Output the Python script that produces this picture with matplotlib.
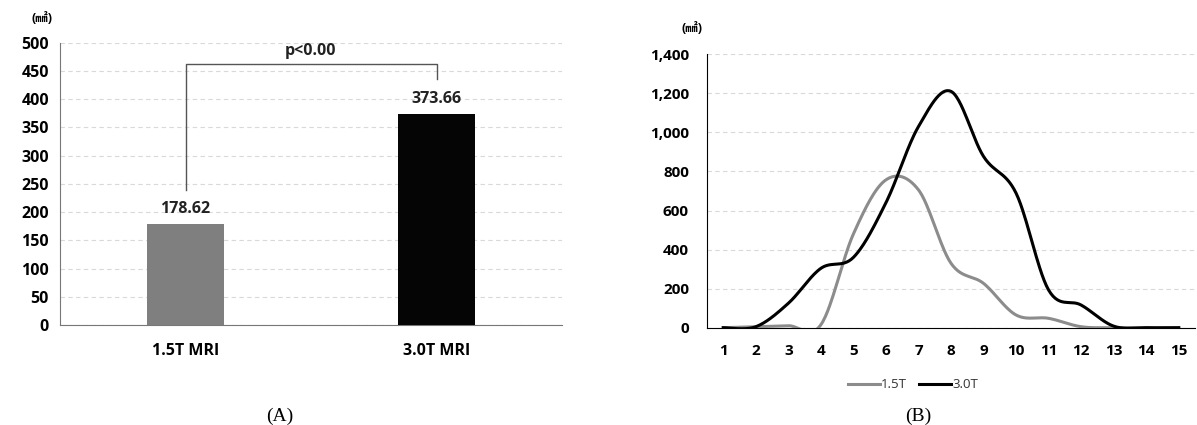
import matplotlib.pyplot as plt
import numpy as np

plt.rcParams['font.family'] = ['Open Sans', 'Noto Sans CJK KR', 'DejaVu Sans']

# (A) mean area per scanner
bar_labels = ["1.5T MRI", "3.0T MRI"]
bar_values = [178.62, 373.66]
bar_colors = ["#7f7f7f", "#050505"]

# (B) area distribution per slice
slices = list(range(1, 16))
area_15t = [0, 5, 10, 15, 480, 757, 706, 330, 227, 65, 48, 5, 0, 0, 0]
area_30t = [0, 5, 125, 304, 360, 640, 1030, 1210, 877, 689, 193, 116, 8, 0, 0]


def smooth(x, y, n=30):
    # Excel-like smoothed line: cubic bezier through points, Catmull-Rom tangents
    x = np.asarray(x, float)
    y = np.asarray(y, float)
    px = np.concatenate([[x[0]], x, [x[-1]]])
    py = np.concatenate([[y[0]], y, [y[-1]]])
    xs, ys = [], []
    t = np.linspace(0, 1, n)
    for i in range(1, len(px) - 2):
        p0 = np.array([px[i], py[i]])
        p3 = np.array([px[i + 1], py[i + 1]])
        p1 = p0 + (np.array([px[i + 1], py[i + 1]]) - np.array([px[i - 1], py[i - 1]])) / 6
        p2 = p3 - (np.array([px[i + 2], py[i + 2]]) - np.array([px[i], py[i]])) / 6
        pts = ((1 - t) ** 3)[:, None] * p0 + (3 * (1 - t) ** 2 * t)[:, None] * p1 \
            + (3 * (1 - t) * t ** 2)[:, None] * p2 + (t ** 3)[:, None] * p3
        xs.extend(pts[:, 0])
        ys.extend(pts[:, 1])
    return np.array(xs), np.array(ys)


fig = plt.figure(figsize=(11.97, 4.25), dpi=100)
grid_kw = dict(color="#d9d9d9", linestyle=(0, (4, 3)), linewidth=0.8)

# ---- (A) bar chart
ax1 = fig.add_axes([60 / 1197, 1 - 325 / 425, 502 / 1197, (325 - 42.7) / 425])
pos = np.arange(len(bar_labels))
ax1.bar(pos, bar_values, width=0.31, color=bar_colors, zorder=3)
for p, v in zip(pos, bar_values):
    ax1.text(p, v + 12, f"{v:.2f}", ha="center", va="bottom", fontsize=11.5,
             fontweight="bold", color="#222222")
ax1.set_xlim(-0.5, 1.5)
ax1.set_ylim(0, 500)
ax1.set_yticks(np.arange(0, 501, 50))
ax1.set_xticks(pos)
ax1.set_xticklabels(bar_labels)
ax1.yaxis.grid(True, **grid_kw)
ax1.set_axisbelow(True)
for s in ["top", "right"]:
    ax1.spines[s].set_visible(False)
ax1.spines["left"].set_color("#777777")
ax1.spines["bottom"].set_color("#777777")
ax1.tick_params(length=0, labelsize=11.5, pad=8)
for lbl in ax1.get_xticklabels() + ax1.get_yticklabels():
    lbl.set_fontweight("bold")
ax1.tick_params(axis="x", pad=13)

# significance bracket
ax1.plot([pos[0], pos[0], pos[1], pos[1]], [239, 463, 463, 435],
         color="#555555", linewidth=1, zorder=4)
ax1.text((pos[0] + pos[1]) / 2, 485, "p<0.00", ha="center", va="center",
         fontsize=11.5, fontweight="bold", color="#222222")
fig.text(42 / 1197, 1 - 18 / 425, "(㎟)", ha="center", va="center",
         fontsize=9, fontweight="bold")

# ---- (B) smoothed line chart
ax2 = fig.add_axes([707 / 1197, 1 - 327.7 / 425, 488 / 1197, (327.7 - 54.3) / 425])
sx, sy = smooth(slices, area_15t)
ax2.plot(sx, sy, color="#8c8c8c", linewidth=2.2, label="1.5T", zorder=3)
sx, sy = smooth(slices, area_30t)
ax2.plot(sx, sy, color="#000000", linewidth=2.2, label="3.0T", zorder=4)
ax2.set_xlim(0.5, 15.5)
ax2.set_ylim(0, 1400)
ax2.set_xticks(slices)
ax2.set_yticks(np.arange(0, 1401, 200))
ax2.set_yticklabels([f"{v:,}" for v in range(0, 1401, 200)])
ax2.yaxis.grid(True, **grid_kw)
ax2.set_axisbelow(True)
for s in ["top", "right"]:
    ax2.spines[s].set_visible(False)
ax2.tick_params(length=0, labelsize=11)
ax2.tick_params(axis="x", pad=12)
ax2.tick_params(axis="y", pad=13)
for lbl in ax2.get_xticklabels() + ax2.get_yticklabels():
    lbl.set_fontweight("bold")
fig.text(692 / 1197, 1 - 28 / 425, "(㎟)", ha="center", va="center",
         fontsize=9, fontweight="bold")

fig.legend(*ax2.get_legend_handles_labels(), loc="center",
           bbox_to_anchor=(913 / 1197, 1 - 385 / 425), ncol=2, frameon=False,
           fontsize=9.5, handlelength=2.4, handletextpad=0.1, columnspacing=0.9,
           labelcolor="#333333")

fig.text(280 / 1197, 1 - 416 / 425, "(A)", ha="center", va="center",
         fontsize=14, family="Liberation Serif")
fig.text(918 / 1197, 1 - 416 / 425, "(B)", ha="center", va="center",
         fontsize=14, family="Liberation Serif")

fig.savefig("out.png", dpi=100)
